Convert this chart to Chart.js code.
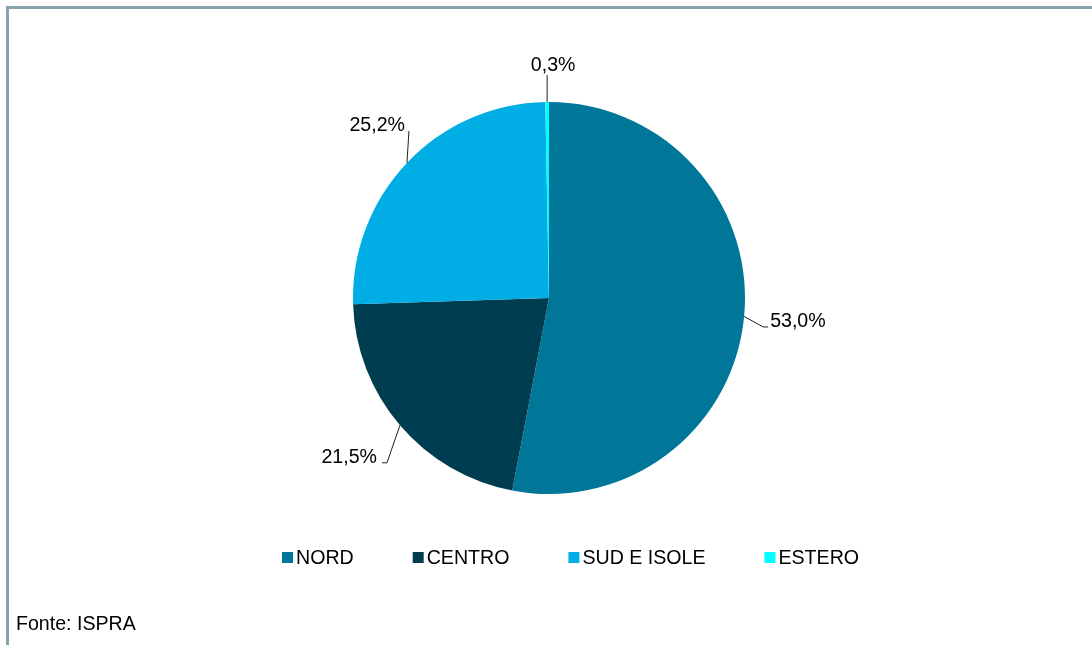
<!DOCTYPE html>
<html>
<head>
<meta charset="utf-8">
<script src="https://cdn.jsdelivr.net/npm/chart.js@4"></script>
<style>
  body { margin: 0; background: #fff; }
  #wrap { position: relative; width: 1092px; height: 645px; overflow: hidden; }
  #frame { position: absolute; left: 6px; top: 6px; right: 0; bottom: 0;
           border-left: 3px solid #8aa3ab; border-top: 3px solid #8aa3ab; pointer-events: none; }
  canvas { position: absolute; left: 0; top: 0; }
</style>
</head>
<body>
<div id="wrap">
  <canvas id="pieChart" width="1092" height="645"></canvas>
  <div id="frame"></div>
</div>
<script>
// data
const categories = ['NORD', 'CENTRO', 'SUD E ISOLE', 'ESTERO'];
const shares = [53.0, 21.5, 25.2, 0.3];
const sliceColors = ['#007699', '#003d50', '#00aee5', '#00ffff'];
const sourceNote = 'Fonte: ISPRA';

// leader line placement per slice (relative to the slice edge midpoint)
const leaders = [
  { dx: 19, dy: 10.5, tail: 5, align: 'left', tx: 2, ty: 0 },
  { dx: -13, dy: 37.5, tail: -5, align: 'right', tx: -5, ty: 0 },
  { dx: 2, dy: -32, tail: 0, align: 'right', tx: -4, ty: 0 },
  { dx: 0, dy: -27, tail: 0, align: 'center', tx: 6, ty: -4 }
];

const FONT = '19.6px "Liberation Sans", Arial, sans-serif';

function fmt(v) {
  return v.toFixed(1).replace('.', ',') + '%';
}

const labelPlugin = {
  id: 'pieLabels',
  afterDraw(chart) {
    const ctx = chart.ctx;
    const arcs = chart.getDatasetMeta(0).data;
    ctx.save();
    ctx.font = FONT;
    ctx.fillStyle = '#000';
    ctx.strokeStyle = '#222';
    ctx.lineWidth = 1;
    arcs.forEach((arc, i) => {
      const mid = (arc.startAngle + arc.endAngle) / 2;
      const ax = arc.x + Math.cos(mid) * arc.outerRadius;
      const ay = arc.y + Math.sin(mid) * arc.outerRadius;
      const l = leaders[i];
      const ex = ax + l.dx, ey = ay + l.dy;
      ctx.beginPath();
      ctx.moveTo(ax, ay);
      ctx.lineTo(ex, ey);
      if (l.tail) ctx.lineTo(ex + l.tail, ey);
      ctx.stroke();
      ctx.textAlign = l.align;
      ctx.textBaseline = 'alphabetic';
      ctx.fillText(fmt(shares[i]), ex + l.tail + l.tx, ey + l.ty);
    });

    // legend row
    let x = 282;
    const boxY = 552, baseY = 564;
    categories.forEach((name, i) => {
      ctx.fillStyle = sliceColors[i];
      ctx.fillRect(x, boxY, 11, 11);
      ctx.fillStyle = '#000';
      ctx.textAlign = 'left';
      ctx.fillText(name, x + 14, baseY);
      x += 14 + ctx.measureText(name).width + 59;
    });

    ctx.fillText(sourceNote, 16, 630);
    ctx.restore();
  }
};

new Chart(document.getElementById('pieChart'), {
  type: 'pie',
  data: {
    labels: categories,
    datasets: [{
      data: shares,
      backgroundColor: sliceColors,
      borderWidth: 0
    }]
  },
  options: {
    responsive: false,
    animation: false,
    layout: { padding: { left: 353, right: 347, top: 102, bottom: 151 } },
    plugins: {
      legend: { display: false },
      tooltip: { enabled: false }
    }
  },
  plugins: [labelPlugin]
});
</script>
</body>
</html>
